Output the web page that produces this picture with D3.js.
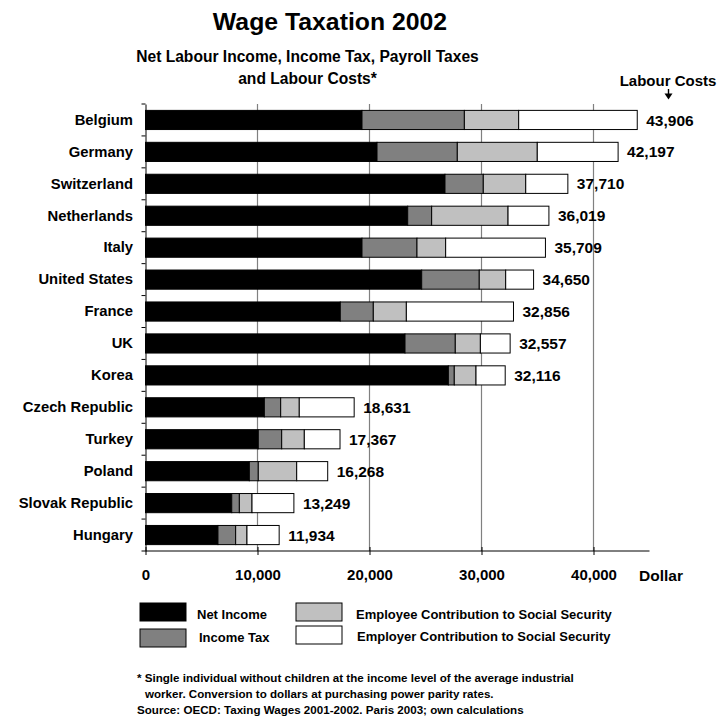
<!DOCTYPE html>
<html>
<head>
<meta charset="utf-8">
<script src="https://cdn.jsdelivr.net/npm/d3@7"></script>
<style>
  html, body { margin: 0; padding: 0; background: #fff; }
  svg text { font-family: "Liberation Sans", Arial, Helvetica, sans-serif; font-weight: bold; fill: #000; }
</style>
</head>
<body>
<svg id="chart" width="719" height="720"></svg>
<script>
// Countries, top to bottom
const countries = ["Belgium", "Germany", "Switzerland", "Netherlands", "Italy", "United States",
  "France", "UK", "Korea", "Czech Republic", "Turkey", "Poland", "Slovak Republic", "Hungary"];

// Components of labour costs, US dollars at PPP
const netIncome   = [19330, 20670, 26740, 23410, 19330, 24660, 17390, 23170, 27040, 10610, 10070, 9270, 7700, 6470];
const incomeTax   = [ 9140,  7170,  3420,  2140,  4910,  5140,  2950,  4490,   530,  1460,  2090,  800,  680, 1580];
const employeeSSC = [ 4850,  7140,  3790,  6820,  2560,  2360,  2950,  2240,  1940,  1660,  2020, 3430, 1130, 1010];
const employerSSC = [10586,  7217,  3760,  3649,  8909,  2490,  9566,  2657,  2606,  4901,  3187, 2768, 3739, 2874];

const seriesNames = ["Net Income", "Income Tax", "Employee Contribution to Social Security", "Employer Contribution to Social Security"];
const seriesColors = ["#000000", "#808080", "#c0c0c0", "#ffffff"];
const xTicks = [0, 10000, 20000, 30000, 40000];

const keys = ["net", "tax", "employee", "employer"];
const rows = countries.map((c, i) => ({
  country: c, net: netIncome[i], tax: incomeTax[i], employee: employeeSSC[i], employer: employerSSC[i]
}));

const svg = d3.select("#chart");
const plotLeft = 145.5, plotRight = 649.5, plotTop = 104, plotBottom = 551;

const x = d3.scaleLinear().domain([0, 45000]).range([plotLeft, plotRight]);
const y = d3.scaleBand().domain(countries).range([plotTop, plotBottom]).paddingInner(0.4).paddingOuter(0.2);
const color = d3.scaleOrdinal().domain(keys).range(seriesColors);

// Titles
svg.append("text").attr("x", 330).attr("y", 30).attr("text-anchor", "middle")
  .style("font-size", "24.8px").text("Wage Taxation 2002");
svg.append("text").attr("x", 307.5).attr("y", 62).attr("text-anchor", "middle")
  .style("font-size", "15.6px").text("Net Labour Income, Income Tax, Payroll Taxes");
svg.append("text").attr("x", 307.5).attr("y", 84).attr("text-anchor", "middle")
  .style("font-size", "15.6px").text("and Labour Costs*");

// Vertical gridlines
svg.append("g").selectAll("line").data(xTicks.slice(1)).join("line")
  .attr("x1", d => x(d)).attr("x2", d => x(d))
  .attr("y1", plotTop).attr("y2", plotBottom)
  .attr("stroke", "#808080").attr("stroke-width", 1.2);

// Stacked bars
const stacked = d3.stack().keys(keys)(rows);
svg.append("g").selectAll("g").data(stacked).join("g")
  .attr("fill", d => color(d.key))
  .selectAll("rect").data(d => d).join("rect")
  .attr("x", d => x(d[0]))
  .attr("y", d => y(d.data.country))
  .attr("width", d => x(d[1]) - x(d[0]))
  .attr("height", y.bandwidth())
  .attr("stroke", "#000").attr("stroke-width", 1);

// Labour cost totals
const fmt = d3.format(",");
const last = stacked[stacked.length - 1];
svg.append("g").selectAll("text").data(last).join("text")
  .attr("x", d => x(d[1]) + 9)
  .attr("y", d => y(d.data.country) + y.bandwidth() / 2)
  .attr("dy", "0.36em")
  .style("font-size", "15.5px")
  .text(d => fmt(d[1]));

// Category axis
const yAxis = svg.append("g").attr("transform", `translate(${plotLeft},0)`)
  .call(d3.axisLeft(y).tickSize(0).tickPadding(12.5));
yAxis.select(".domain").attr("stroke", "#000");
yAxis.selectAll("text").style("font-size", "14.8px");
const bounds = countries.map(c => y(c) - y.step() * y.paddingInner() / 2).concat([plotBottom]);
svg.append("g").selectAll("line").data(bounds).join("line")
  .attr("x1", plotLeft - 4).attr("x2", plotLeft).attr("y1", d => d).attr("y2", d => d)
  .attr("stroke", "#000");

// Value axis
const xAxis = svg.append("g").attr("transform", `translate(0,${plotBottom})`)
  .call(d3.axisBottom(x).tickValues(xTicks).tickFormat(fmt).tickSize(4).tickPadding(14));
xAxis.select(".domain").attr("d", `M${plotLeft},0H${plotRight}`).attr("stroke", "#000");
xAxis.selectAll(".tick line").attr("stroke", "#000").attr("y1", -4);
xAxis.selectAll("text").style("font-size", "15px");
svg.append("text").attr("x", 639).attr("y", 581).attr("text-anchor", "start")
  .style("font-size", "15.5px").text("Dollar");

// Labour Costs marker
svg.append("text").attr("x", 668).attr("y", 86).attr("text-anchor", "middle")
  .style("font-size", "15px").text("Labour Costs");
svg.append("line").attr("x1", 668.5).attr("x2", 668.5).attr("y1", 89).attr("y2", 94)
  .attr("stroke", "#000").attr("stroke-width", 1.4);
svg.append("path").attr("d", "M664.5,93.5L672.5,93.5L668.5,99.5Z").attr("fill", "#000");

// Legend
const legendItems = [
  { key: "net", sx: 140, sy: 603, tx: 197, ty: 618.5 },
  { key: "tax", sx: 140, sy: 629, tx: 199, ty: 642 },
  { key: "employee", sx: 296, sy: 603, tx: 356, ty: 618.5 },
  { key: "employer", sx: 296, sy: 626, tx: 357, ty: 640.5 }
];
const legend = svg.append("g");
legend.selectAll("rect").data(legendItems).join("rect")
  .attr("x", d => d.sx).attr("y", d => d.sy).attr("width", 46).attr("height", 18)
  .attr("fill", d => color(d.key)).attr("stroke", "#000").attr("stroke-width", 1);
legend.selectAll("text").data(legendItems).join("text")
  .attr("x", d => d.tx).attr("y", d => d.ty)
  .style("font-size", "13px")
  .text(d => seriesNames[keys.indexOf(d.key)]);

// Footnote
const notes = [
  { x: 137, y: 682, t: "* Single individual without children at the income level of the average industrial" },
  { x: 145, y: 698, t: "worker. Conversion to dollars at purchasing power parity rates." },
  { x: 137, y: 714, t: "Source: OECD: Taxing Wages 2001-2002. Paris 2003; own calculations" }
];
svg.append("g").selectAll("text").data(notes).join("text")
  .attr("x", d => d.x).attr("y", d => d.y)
  .style("font-size", "11.6px").text(d => d.t);
</script>
</body>
</html>
